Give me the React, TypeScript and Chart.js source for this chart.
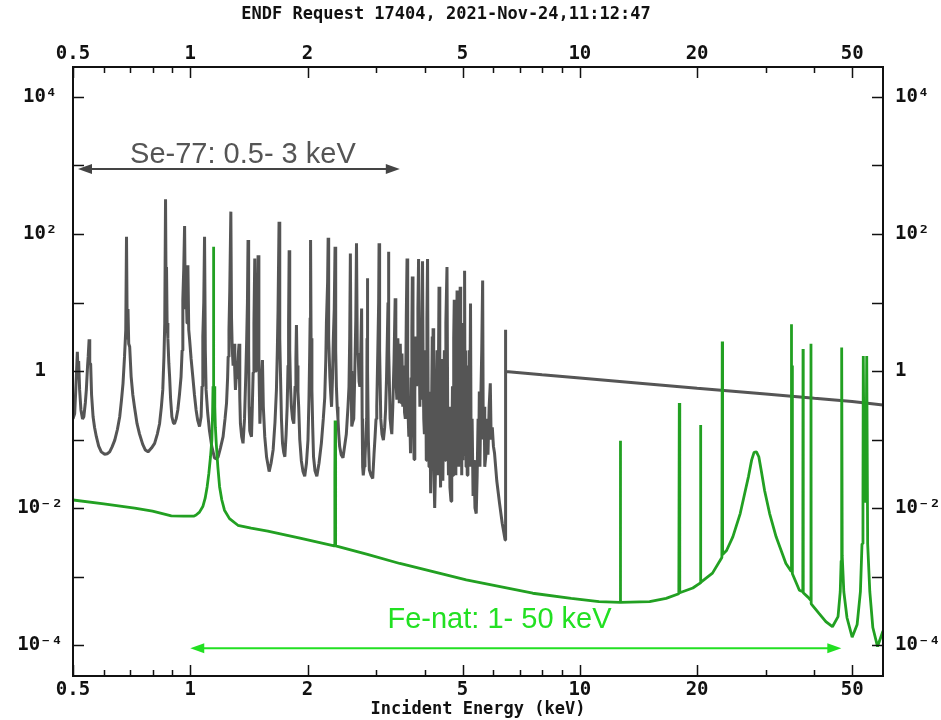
import React, { useEffect, useRef } from "react";
import { Chart, registerables } from "chart.js";

Chart.register(...registerables);

const chartTitle = "ENDF Request 17404, 2021-Nov-24,11:12:47";
const xAxisTitle = "Incident Energy (keV)";
const xRange = [0.5, 60];
const yRange = [3.53e-5, 2.74e4];
const xLabeledTicks = [0.5, 1, 2, 5, 10, 20, 50];
const xMinorTicks = [0.6, 0.7, 0.8, 0.9, 3, 4, 6, 7, 8, 9, 30, 40];
const yLabeledTicks = [1e4, 1e2, 1, 1e-2, 1e-4];
const yMinorTicks = [1e3, 1e1, 1e-1, 1e-3];

const seLabel = "Se-77: 0.5- 3 keV";
const feLabel = "Fe-nat: 1- 50 keV";
const seArrowX = [0.515, 3.45];
const seArrowY = 890;
const seLabelAt = [1.365, 1420];
const feArrowX = [1.0, 46.9];
const feArrowY = 9.0e-5;
const feLabelAt = [6.22, 2.32e-4];

// Se-77 cross section [energy keV, value]
const seCurve: [number, number][] = [
  [0.5, 0.2], [0.505, 0.24], [0.508, 0.5], [0.51, 0.83], [0.513, 1.9], [0.515, 1.0], [0.517, 1.4],
  [0.52, 0.53], [0.524, 0.27], [0.529, 0.2], [0.533, 0.215], [0.538, 0.35], [0.541, 0.53],
  [0.545, 1.2], [0.547, 1.62], [0.55, 2.9], [0.552, 1.3], [0.555, 1.27], [0.558, 0.45],
  [0.563, 0.215], [0.568, 0.15], [0.574, 0.11], [0.582, 0.08], [0.591, 0.066], [0.603, 0.061],
  [0.612, 0.062], [0.621, 0.066], [0.63, 0.078], [0.64, 0.098], [0.65, 0.14], [0.659, 0.215],
  [0.666, 0.38], [0.672, 0.66], [0.678, 1.62], [0.683, 4], [0.686, 91], [0.689, 3], [0.692, 8],
  [0.695, 2.5], [0.699, 2.26], [0.705, 0.83], [0.712, 0.45], [0.719, 0.3], [0.73, 0.17],
  [0.741, 0.12], [0.755, 0.085], [0.767, 0.07], [0.779, 0.066], [0.795, 0.075], [0.81, 0.088],
  [0.823, 0.12], [0.834, 0.17], [0.843, 0.3], [0.85, 0.53], [0.856, 1.62], [0.86, 5], [0.864, 321],
  [0.867, 10], [0.869, 33], [0.872, 5], [0.876, 3], [0.881, 1.3], [0.885, 0.83], [0.89, 0.4],
  [0.897, 0.215], [0.905, 0.175], [0.911, 0.17], [0.92, 0.2], [0.929, 0.27], [0.938, 0.45],
  [0.947, 0.83], [0.953, 2], [0.957, 11], [0.962, 30], [0.967, 131], [0.971, 8], [0.976, 15],
  [0.981, 5], [0.986, 35], [0.991, 4], [0.996, 2.9], [1.005, 1.5], [1.015, 0.83], [1.025, 0.45],
  [1.035, 0.27], [1.045, 0.19], [1.056, 0.155], [1.066, 0.215], [1.072, 0.6], [1.077, 3.2],
  [1.083, 10], [1.088, 91], [1.093, 2], [1.098, 0.53], [1.108, 0.25], [1.12, 0.135], [1.135, 0.08],
  [1.154, 0.054], [1.168, 0.052], [1.179, 0.056], [1.195, 0.075], [1.214, 0.11], [1.228, 0.2],
  [1.239, 0.34], [1.247, 0.8], [1.251, 1.62], [1.257, 4], [1.263, 15], [1.271, 212], [1.276, 6],
  [1.281, 2.26], [1.288, 1.2], [1.296, 2.5], [1.301, 1.0], [1.306, 0.53], [1.312, 0.8],
  [1.318, 0.95], [1.326, 1.5], [1.334, 2.5], [1.34, 0.4], [1.345, 0.17], [1.355, 0.11],
  [1.366, 0.088], [1.378, 0.2], [1.388, 0.83], [1.396, 3], [1.402, 10], [1.407, 82], [1.412, 2],
  [1.416, 0.3], [1.421, 0.135], [1.428, 0.12], [1.436, 0.11], [1.443, 0.3], [1.45, 0.95],
  [1.457, 5], [1.464, 44], [1.47, 3], [1.475, 1.0], [1.479, 5], [1.486, 3], [1.493, 49], [1.5, 1.5],
  [1.509, 0.17], [1.52, 0.5], [1.532, 1.45], [1.54, 0.3], [1.553, 0.11], [1.57, 0.055],
  [1.594, 0.034], [1.612, 0.045], [1.632, 0.071], [1.65, 0.18], [1.664, 0.53], [1.673, 2],
  [1.68, 7.7], [1.69, 151], [1.697, 3], [1.704, 0.95], [1.714, 0.2], [1.725, 0.088], [1.737, 0.065],
  [1.749, 0.056], [1.762, 0.12], [1.773, 0.3], [1.782, 1.2], [1.788, 5], [1.794, 58], [1.8, 2],
  [1.808, 0.6], [1.818, 0.3], [1.83, 0.2], [1.844, 0.17], [1.858, 0.6], [1.867, 1.5], [1.873, 4.7],
  [1.88, 1.2], [1.89, 0.5], [1.898, 0.3], [1.91, 0.1], [1.928, 0.049], [1.947, 0.034],
  [1.967, 0.029], [1.987, 0.045], [2.005, 0.098], [2.017, 0.4], [2.025, 1.62], [2.031, 6],
  [2.036, 82], [2.042, 3], [2.052, 0.53], [2.062, 0.15], [2.072, 0.056], [2.09, 0.035],
  [2.113, 0.029], [2.14, 0.045], [2.17, 0.088], [2.195, 0.2], [2.214, 0.41], [2.228, 1.5],
  [2.236, 5], [2.252, 20], [2.259, 88], [2.266, 3], [2.282, 0.83], [2.292, 0.5], [2.305, 0.3],
  [2.318, 0.8], [2.329, 2.9], [2.342, 8], [2.353, 65], [2.362, 2], [2.372, 0.59], [2.383, 0.3],
  [2.394, 0.2], [2.405, 0.12], [2.418, 0.079], [2.44, 0.06], [2.466, 0.054], [2.49, 0.08],
  [2.515, 0.12], [2.54, 0.3], [2.555, 0.59], [2.566, 3], [2.576, 52], [2.586, 1], [2.597, 0.155],
  [2.612, 0.18], [2.628, 0.2], [2.645, 1], [2.66, 5.6], [2.671, 73], [2.684, 1.8], [2.697, 1.8],
  [2.712, 0.7], [2.725, 0.59], [2.74, 2], [2.753, 8.2], [2.762, 0.2], [2.77, 0.04], [2.78, 0.03],
  [2.795, 0.04], [2.808, 0.051], [2.825, 0.12], [2.837, 0.2], [2.843, 3], [2.848, 22.5],
  [2.855, 1], [2.865, 0.1], [2.882, 0.036], [2.91, 0.03], [2.94, 0.027], [2.962, 0.06],
  [2.981, 0.11], [2.998, 0.2], [3.011, 0.3], [3.03, 2], [3.045, 10], [3.052, 73], [3.062, 2],
  [3.083, 0.2], [3.105, 0.12], [3.131, 0.098], [3.155, 0.15], [3.172, 0.27], [3.19, 0.8],
  [3.205, 3], [3.218, 10], [3.226, 55], [3.235, 2], [3.25, 0.4], [3.258, 0.2], [3.275, 0.15],
  [3.291, 0.12], [3.31, 0.3], [3.335, 1.5], [3.357, 11.5], [3.37, 0.8], [3.391, 0.38], [3.41, 3],
  [3.425, 1.45], [3.44, 0.34], [3.46, 2.5], [3.478, 0.34], [3.495, 1.8], [3.512, 0.3], [3.53, 1.2],
  [3.548, 0.25], [3.565, 0.2], [3.585, 6], [3.601, 44], [3.615, 1], [3.627, 0.2], [3.639, 0.11],
  [3.655, 0.3], [3.676, 0.063], [3.69, 0.8], [3.705, 4], [3.715, 24], [3.73, 0.4], [3.754, 0.051],
  [3.77, 0.5], [3.793, 3.2], [3.81, 0.6], [3.825, 2.5], [3.84, 8], [3.855, 43], [3.87, 2],
  [3.885, 0.3], [3.9, 1.5], [3.915, 0.4], [3.93, 3], [3.946, 40], [3.96, 1.2], [3.975, 0.2],
  [3.99, 0.12], [4.0, 0.12], [4.02, 2], [4.035, 0.05], [4.05, 6], [4.065, 43], [4.08, 0.3],
  [4.1, 0.04], [4.12, 0.5], [4.14, 0.0164], [4.16, 0.2], [4.18, 3.2], [4.19, 0.08], [4.2, 4.2],
  [4.215, 0.05], [4.24, 0.01], [4.26, 0.036], [4.28, 0.5], [4.3, 2], [4.32, 0.03], [4.335, 1],
  [4.35, 17], [4.37, 0.1], [4.39, 0.02], [4.41, 0.3], [4.43, 1.5], [4.45, 0.025], [4.47, 0.3],
  [4.49, 2], [4.51, 0.05], [4.53, 5], [4.56, 33], [4.58, 0.2], [4.6, 0.03], [4.62, 0.3],
  [4.64, 0.02], [4.67, 0.0126], [4.69, 0.05], [4.71, 0.6], [4.73, 0.03], [4.745, 3], [4.76, 11],
  [4.775, 0.05], [4.79, 3], [4.805, 0.03], [4.82, 1], [4.84, 15], [4.855, 0.05], [4.87, 2],
  [4.885, 0.04], [4.9, 0.6], [4.915, 4], [4.93, 17], [4.945, 0.05], [4.96, 2], [4.975, 0.03],
  [4.99, 1], [5.01, 0.05], [5.03, 5], [5.045, 0.3], [5.06, 29], [5.075, 0.06], [5.09, 2],
  [5.105, 0.04], [5.12, 1.2], [5.14, 0.03], [5.16, 0.5], [5.18, 0.04], [5.2, 2], [5.22, 0.3],
  [5.24, 9.7], [5.26, 0.04], [5.29, 0.2], [5.32, 0.015], [5.35, 0.05], [5.38, 0.01], [5.42, 0.0083],
  [5.45, 0.03], [5.48, 0.2], [5.5, 0.05], [5.52, 0.5], [5.54, 0.04], [5.57, 0.4], [5.6, 2],
  [5.63, 21], [5.65, 0.1], [5.68, 0.3], [5.7, 0.04], [5.74, 0.06], [5.78, 0.2], [5.81, 0.06],
  [5.85, 0.3], [5.89, 0.66], [5.92, 0.1], [5.96, 0.15], [6.0, 0.08], [6.04, 0.063], [6.12, 0.025],
  [6.22, 0.0118], [6.32, 0.006], [6.43, 0.0034], [6.44, 4.0], [6.455, 0.98], [8, 0.88],
  [10, 0.79], [14, 0.67], [20, 0.56], [30, 0.46], [40, 0.4], [50, 0.36], [60, 0.32],
];

// Fe-nat cross section [energy keV, value]
const feCurve: [number, number][] = [
  [0.5, 0.0131], [0.6, 0.0115], [0.72, 0.01], [0.8, 0.009], [0.894, 0.0077], [0.96, 0.0076],
  [1.02, 0.0076], [1.035, 0.0079], [1.056, 0.0087], [1.077, 0.0105], [1.092, 0.0139],
  [1.105, 0.0205], [1.116, 0.032], [1.127, 0.056], [1.136, 0.098], [1.141, 0.25], [1.144, 0.6],
  [1.146, 0.2], [1.148, 65], [1.15, 0.5], [1.153, 0.6], [1.156, 0.3], [1.16, 0.15], [1.166, 0.088],
  [1.177, 0.04], [1.189, 0.0205], [1.205, 0.0131], [1.224, 0.0093], [1.261, 0.007],
  [1.325, 0.0056], [1.433, 0.0051], [1.581, 0.0046], [1.925, 0.0036], [2.34, 0.0028],
  [2.35, 0.03], [2.354, 0.19], [2.358, 0.02], [2.364, 0.0028], [2.85, 0.0021], [3.45, 0.00155],
  [5.11, 0.00089], [7.57, 0.00057], [9.5, 0.00048], [11.2, 0.00043], [12.68, 0.00042],
  [12.7, 0.096], [12.73, 0.00042], [15.1, 0.00043], [16.65, 0.00048], [17.95, 0.00056],
  [18.0, 0.34], [18.05, 0.00058], [19.5, 0.00068], [20.35, 0.0008], [20.4, 0.163],
  [20.45, 0.00082], [21.9, 0.00112], [23.15, 0.0019], [23.2, 2.7], [23.25, 0.0021],
  [23.8, 0.0024], [24.7, 0.0038], [25.8, 0.0083], [26.5, 0.0164], [27.1, 0.029], [27.6, 0.05],
  [28.0, 0.065], [28.4, 0.066], [28.8, 0.056], [29.2, 0.036], [29.8, 0.018], [30.7, 0.0083],
  [31.9, 0.0038], [33.8, 0.00155], [34.85, 0.0012], [34.9, 4.8], [34.97, 0.003], [35.05, 1.2],
  [35.12, 0.0011], [36.6, 0.00063], [37.35, 0.0006], [37.4, 2.1], [37.45, 0.00058], [38.5, 0.0005],
  [39.15, 0.00045], [39.2, 2.5], [39.25, 0.0004], [41.1, 0.00029], [42.8, 0.00022],
  [44.5, 0.000185], [46.0, 0.00026], [46.6, 0.0006], [46.85, 0.0017], [47.0, 2.2], [47.15, 0.002],
  [47.6, 0.0006], [48.5, 0.00025], [50.0, 0.00013], [51.5, 0.0002], [52.5, 0.0006], [53.0, 0.003],
  [53.3, 0.013], [53.4, 1.66], [53.7, 0.02], [54.2, 0.012], [54.5, 1.66], [54.8, 0.003],
  [55.5, 0.0006], [56.5, 0.00018], [58.1, 0.000095], [60, 0.00016],
];

const seColor = "#555555";
const feColor = "#22a022";
const seLabelColor = "#555555";
const feLabelColor = "#22e022";
const monoFamily = "'DejaVu Sans Mono', monospace";
const sansFamily = "'Liberation Sans', Arial, sans-serif";

const supMap: Record<string, string> = {
  "0": "\u2070", "1": "\u00b9", "2": "\u00b2", "3": "\u00b3", "4": "\u2074",
  "5": "\u2075", "6": "\u2076", "7": "\u2077", "8": "\u2078", "9": "\u2079", "-": "\u207b",
};
const fmtY = (v: number) => {
  const e = Math.round(Math.log10(v));
  if (e === 0) return "1";
  return "10" + String(e).split("").map((c) => supMap[c]).join("");
};
const fmtX = (v: number) => String(v);

function drawArrow(ctx: CanvasRenderingContext2D, x1: number, x2: number, y: number, color: string) {
  const hl = 14, hw = 5;
  ctx.save();
  ctx.strokeStyle = color;
  ctx.fillStyle = color;
  ctx.lineWidth = 2;
  ctx.beginPath();
  ctx.moveTo(x1 + hl - 2, y);
  ctx.lineTo(x2 - hl + 2, y);
  ctx.stroke();
  ctx.beginPath();
  ctx.moveTo(x1, y);
  ctx.lineTo(x1 + hl, y - hw);
  ctx.lineTo(x1 + hl, y + hw);
  ctx.closePath();
  ctx.fill();
  ctx.beginPath();
  ctx.moveTo(x2, y);
  ctx.lineTo(x2 - hl, y - hw);
  ctx.lineTo(x2 - hl, y + hw);
  ctx.closePath();
  ctx.fill();
  ctx.restore();
}

const framePlugin = {
  id: "endfFrame",
  afterDraw(chart: any) {
    const { ctx, chartArea: a, scales } = chart;
    const xs = scales.x, ys = scales.y;
    ctx.save();
    ctx.strokeStyle = "#111";
    ctx.lineWidth = 2;
    ctx.strokeRect(a.left, a.top, a.right - a.left, a.bottom - a.top);
    ctx.lineWidth = 1.5;
    ctx.beginPath();
    const xt = (v: number, len: number) => {
      const px = Math.round(xs.getPixelForValue(v)) + 0.5;
      ctx.moveTo(px, a.bottom);
      ctx.lineTo(px, a.bottom - len);
      ctx.moveTo(px, a.top);
      ctx.lineTo(px, a.top + len);
    };
    xLabeledTicks.forEach((v) => xt(v, 11));
    xMinorTicks.forEach((v) => xt(v, 6));
    const yt = (v: number, len: number) => {
      const py = Math.round(ys.getPixelForValue(v)) + 0.5;
      ctx.moveTo(a.left, py);
      ctx.lineTo(a.left + len, py);
      ctx.moveTo(a.right, py);
      ctx.lineTo(a.right - len, py);
    };
    yLabeledTicks.forEach((v) => yt(v, 11));
    yMinorTicks.forEach((v) => yt(v, 11));
    ctx.stroke();

    ctx.fillStyle = "#111";
    ctx.font = `bold 17px ${monoFamily}`;
    ctx.textAlign = "center";
    ctx.textBaseline = "middle";
    ctx.fillText(chartTitle, 446, 15);

    drawArrow(ctx, xs.getPixelForValue(seArrowX[0]), xs.getPixelForValue(seArrowX[1]), ys.getPixelForValue(seArrowY), "#444");
    drawArrow(ctx, xs.getPixelForValue(feArrowX[0]), xs.getPixelForValue(feArrowX[1]), ys.getPixelForValue(feArrowY), feLabelColor);
    ctx.font = `29px ${sansFamily}`;
    ctx.fillStyle = seLabelColor;
    ctx.fillText(seLabel, xs.getPixelForValue(seLabelAt[0]), ys.getPixelForValue(seLabelAt[1]));
    ctx.fillStyle = feLabelColor;
    ctx.fillText(feLabel, xs.getPixelForValue(feLabelAt[0]), ys.getPixelForValue(feLabelAt[1]));
    ctx.restore();
  },
};

const tickFont = { family: monoFamily, size: 19, weight: "bold" as const };

function xScale(position: "top" | "bottom", size: number, padding: number, withTitle: boolean) {
  return {
    type: "logarithmic" as const,
    position,
    min: xRange[0],
    max: xRange[1],
    grid: { display: false, drawTicks: false },
    border: { display: false },
    afterBuildTicks: (s: any) => {
      s.ticks = xLabeledTicks.map((v) => ({ value: v }));
    },
    afterFit: (s: any) => {
      s.height = size;
    },
    ticks: {
      autoSkip: false,
      maxRotation: 0,
      minRotation: 0,
      padding,
      color: "#111",
      font: tickFont,
      callback: (v: any) => fmtX(Number(v)),
    },
    title: {
      display: withTitle,
      text: xAxisTitle,
      color: "#111",
      font: { family: monoFamily, size: 17, weight: "bold" as const },
      padding: { top: 0, bottom: 0 },
    },
  };
}

function yScale(position: "left" | "right", size: number, padding: number, crossAlign: "near" | "center") {
  return {
    type: "logarithmic" as const,
    position,
    min: yRange[0],
    max: yRange[1],
    grid: { display: false, drawTicks: false },
    border: { display: false },
    afterBuildTicks: (s: any) => {
      s.ticks = yLabeledTicks.map((v) => ({ value: v }));
    },
    afterFit: (s: any) => {
      s.width = size;
    },
    ticks: {
      autoSkip: false,
      padding,
      crossAlign,
      color: "#111",
      font: tickFont,
      callback: (v: any) => fmtY(Number(v)),
    },
  };
}

export default function App() {
  const ref = useRef<HTMLCanvasElement | null>(null);
  useEffect(() => {
    if (!ref.current) return;
    const chart = new Chart(ref.current, {
      type: "line",
      data: {
        datasets: [
          {
            label: "Fe-nat",
            data: feCurve.map(([x, y]) => ({ x, y })),
            borderColor: feColor,
            borderWidth: 2.8,
            borderJoinStyle: "bevel",
            pointRadius: 0,
            tension: 0,
            order: 0,
            xAxisID: "x",
            yAxisID: "y",
          },
          {
            label: "Se-77",
            data: seCurve.map(([x, y]) => ({ x, y })),
            borderColor: seColor,
            borderWidth: 3,
            borderJoinStyle: "bevel",
            pointRadius: 0,
            tension: 0,
            order: 1,
            xAxisID: "x",
            yAxisID: "y",
          },
        ],
      },
      options: {
        responsive: false,
        animation: false,
        devicePixelRatio: 1,
        layout: { padding: 0 },
        plugins: { legend: { display: false }, title: { display: false }, tooltip: { enabled: false } },
        scales: {
          x: xScale("bottom", 44, 3, true),
          x2: xScale("top", 67, 2, false),
          y: yScale("left", 73, 10, "center"),
          y2: yScale("right", 58, 12, "near"),
        } as any,
      },
      plugins: [framePlugin],
    });
    return () => chart.destroy();
  }, []);
  return (
    <div style={{ position: "absolute", left: 0, top: 0, width: 941, height: 720, background: "#fff" }}>
      <canvas ref={ref} width={941} height={720} />
    </div>
  );
}
